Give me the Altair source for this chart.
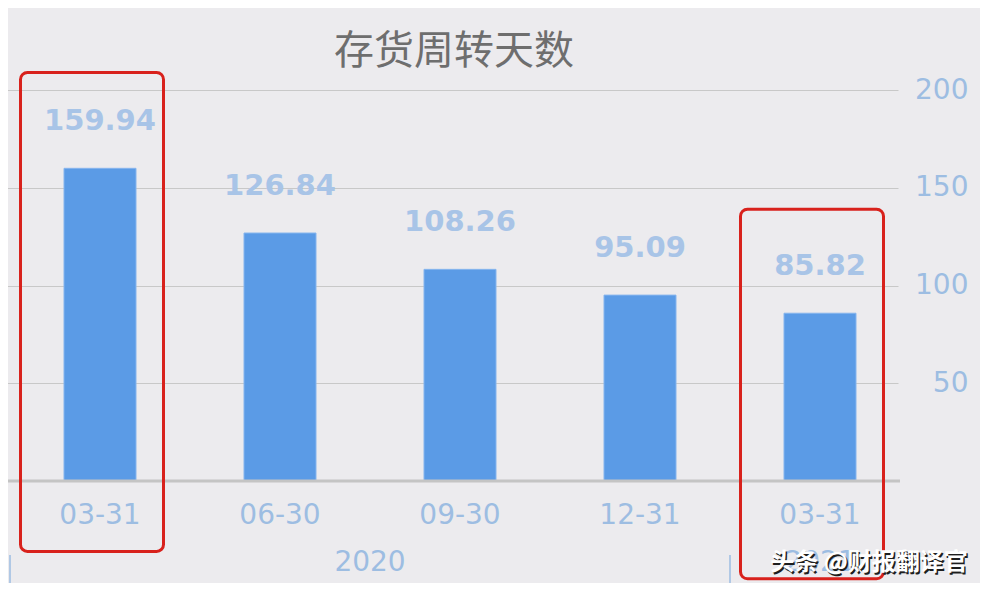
import altair as alt
import pandas as pd

# ---- data ----
dates = ["2020-03-31", "2020-06-30", "2020-09-30", "2020-12-31", "2021-03-31"]
values = [159.94, 126.84, 108.26, 95.09, 85.82]
title_text = "存货周转天数"
y_ticks = [50, 100, 150, 200]
highlight_dates = ["2020-03-31", "2021-03-31"]
highlight_top = [209, 139]
highlight_bottom = [-36, -50]
years = ["2020", "2021"]
separator_dates = ["2020-03-31", "2021-03-31"]
watermark = "头条 @财报翻译官"

BG = "#ecebee"
BAR = "#5b9be6"
LABEL_BLUE = "#a8c4e7"
AXIS_BLUE = "#9dbde2"

df = pd.DataFrame({"date": dates, "value": values})
hl = pd.DataFrame({"date": highlight_dates, "top": highlight_top, "bottom": highlight_bottom})
seps = pd.DataFrame({"date": separator_dates})
y2020 = pd.DataFrame({"date": ["2020-09-30"], "year": [years[0]]})
y2021 = pd.DataFrame({"date": ["2021-03-31"], "year": [years[1]]})
one = pd.DataFrame({"t": [title_text], "w": [watermark]})

x_scale = alt.Scale(domain=dates, range=[2, 902], paddingInner=0, paddingOuter=0)
y_scale = alt.Scale(domain=[0, 200], nice=False, zero=True)

x_axis = alt.Axis(
    labelExpr="substring(datum.label, 5)", labelFontSize=28, labelColor=AXIS_BLUE,
    labelFont="DejaVu Sans", labelPadding=20, ticks=False, domain=False, grid=False,
    title=None, labelAngle=0,
)
y_axis = alt.Axis(
    orient="right", values=y_ticks, grid=True, gridColor="#c8c8c8", gridWidth=1,
    ticks=False, domain=False, labelAlign="right", labelPadding=68, labelFontSize=28,
    labelColor=AXIS_BLUE, labelFont="DejaVu Sans", labelBaseline="middle", title=None,
)


def X(**kw):
    return alt.X("date:N", scale=x_scale, sort=dates, axis=x_axis, **kw)


def Y(field):
    return alt.Y(field, scale=y_scale, axis=y_axis)


bars = alt.Chart(df).mark_bar(width=72, color=BAR, stroke="#86b5ee", strokeWidth=1).encode(
    x=X(), y=Y("value:Q"),
)

labels = alt.Chart(df).mark_text(
    dy=-47, fontSize=29, fontWeight="bold", font="DejaVu Sans", color=LABEL_BLUE, baseline="middle"
).encode(
    x=X(), y=Y("value:Q"),
    text=alt.Text("value:Q", format=".2f"),
)

baseline = alt.Chart(one).mark_rule(color="#c4c4c4", strokeWidth=3).encode(
    y=alt.datum(0, scale=y_scale, axis=y_axis)
)

rects = alt.Chart(hl).mark_bar(
    width=143, fillOpacity=0, stroke="#d8211c", strokeWidth=3, cornerRadius=7, xOffset=-8
).encode(
    x=X(), y=Y("top:Q"), y2="bottom:Q",
)

sep_rules = alt.Chart(seps).mark_rule(color="#9dbde2", strokeWidth=1.5).encode(
    x=X(bandPosition=0),
    y=alt.value(465), y2=alt.value(495),
)

year_txt_a = alt.Chart(y2020).mark_text(
    fontSize=28, font="DejaVu Sans", color=AXIS_BLUE, baseline="middle"
).encode(
    x=X(bandPosition=0), y=alt.value(473), text="year:N",
)
year_txt_b = alt.Chart(y2021).mark_text(
    fontSize=28, font="DejaVu Sans", color=AXIS_BLUE, baseline="middle"
).encode(
    x=X(bandPosition=0.5), y=alt.value(473), text="year:N",
)

title = alt.Chart(one).mark_text(
    fontSize=40, font="Noto Sans CJK SC", color="#6e6e6e", baseline="middle", align="center"
).encode(x=alt.value(446), y=alt.value(-38), text="t:N")

wm_shadow = alt.Chart(one).mark_text(
    fontSize=24, font="Noto Sans CJK SC", fontWeight="bold", color="#1e1e1e",
    baseline="middle", align="center", dx=1.5, dy=1.5,
).encode(x=alt.value(861), y=alt.value(473), text="w:N")
wm = alt.Chart(one).mark_text(
    fontSize=24, font="Noto Sans CJK SC", fontWeight="bold", color="#ffffff",
    baseline="middle", align="center",
).encode(x=alt.value(861), y=alt.value(473), text="w:N")

chart = alt.layer(
    bars, baseline, labels, rects, sep_rules, year_txt_a, year_txt_b, title, wm_shadow, wm
).properties(
    width=892, height=391,
    autosize=alt.AutoSizeParams(type="none"),
    padding={"left": 0, "top": 82, "right": 80, "bottom": 102},
    background=BG,
).configure_view(stroke=None)

chart.save("out.html", embed_options={"renderer": "svg", "actions": False})
